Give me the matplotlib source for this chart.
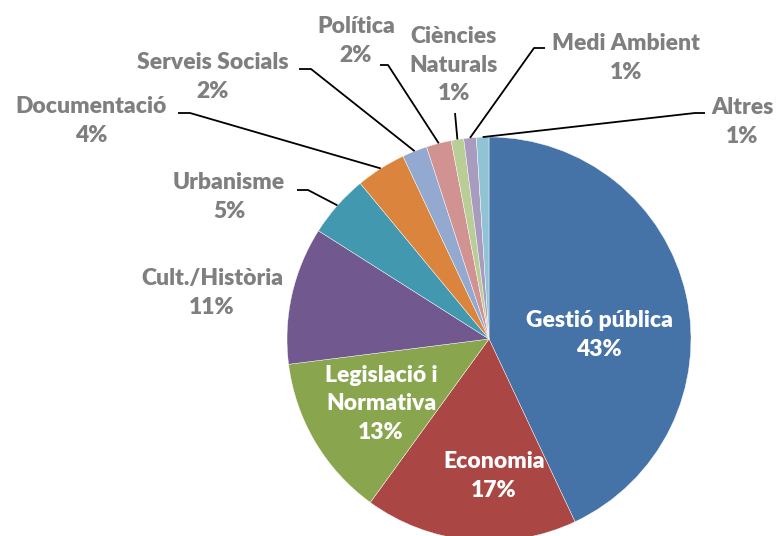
import matplotlib
matplotlib.use("Agg")
import matplotlib.pyplot as plt
import numpy as np

# ---- data ----
categories = ["Gestió pública", "Economia", "Legislació i\nNormativa", "Cult./Història",
              "Urbanisme", "Documentació", "Serveis Socials", "Política",
              "Ciències\nNaturals", "Medi Ambient", "Altres"]
values = [43, 17, 13, 11, 5, 4, 2, 2, 1, 1, 1]
colors = ["#4572A7", "#AA4643", "#89A54E", "#71588F", "#4198AF", "#DB843D",
          "#93A9CF", "#D19392", "#B9CD96", "#A99BBD", "#92C3D4"]

W, H = 776, 536
fig = plt.figure(figsize=(W / 100, H / 100), dpi=100)
ax = fig.add_axes([0, 0, 1, 1])

def py(y):
    return H - y

cx, cy, R = 489, py(339), 202
wedges, _ = ax.pie(values, colors=colors, startangle=90, counterclock=False,
                   center=(cx, cy), radius=R,
                   wedgeprops=dict(edgecolor="white", linewidth=0.3))
ax.set_xlim(0, W)
ax.set_ylim(0, H)
ax.set_aspect("auto")
ax.axis("off")

# layout: label centre (px, y down), text colour, leader polyline start points
layout = [
    dict(xy=(599, 335), c="white", lead=None),
    dict(xy=(494, 476), c="white", lead=None),
    dict(xy=(381, 404), c="white", lead=None),
    dict(xy=(212, 293), c="gray", lead=None),
    dict(xy=(229, 197), c="gray", lead=[(297, 190), (308, 190)]),
    dict(xy=(91, 121), c="gray", lead=[(178, 113), (190, 113)]),
    dict(xy=(213, 77), c="gray", lead=[(299, 69), (311, 69)]),
    dict(xy=(356, 41), c="gray", lead=[(380, 65), (388, 65)]),
    dict(xy=(454, 65), c="gray", lead=[(455, 113)]),
    dict(xy=(626, 58), c="gray", lead=[(545, 48), (534, 48)]),
    dict(xy=(742, 122), c="gray", lead=[(705, 113), (695, 113)]),
]

for w, cat, v, lay in zip(wedges, categories, values, layout):
    col = "white" if lay["c"] == "white" else "#7F7F7F"
    x, y = lay["xy"]
    ax.text(x, py(y), f"{cat}\n{v}%", ha="center", va="center", color=col,
            fontsize=16.5, fontweight="heavy", family=["Lato", "DejaVu Sans"],
            linespacing=1.45)
    if lay["lead"]:
        mid = np.deg2rad((w.theta1 + w.theta2) / 2)
        ex, ey = cx + R * np.cos(mid), cy + R * np.sin(mid)
        pts = [(px_, py(py_)) for px_, py_ in lay["lead"]] + [(ex, ey)]
        xs, ys = zip(*pts)
        ax.plot(xs, ys, color="black", lw=1.3, solid_capstyle="butt")

fig.savefig("out.png", dpi=100)
